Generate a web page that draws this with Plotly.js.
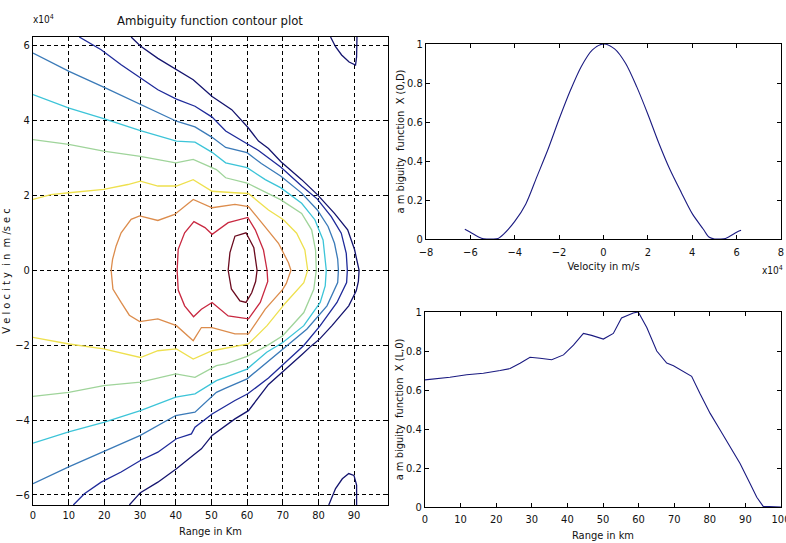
<!DOCTYPE html>
<html><head><meta charset="utf-8">
<script src="https://cdn.plot.ly/plotly-3.0.1.min.js"></script>
<style>html,body{margin:0;padding:0;background:#fff}#chart{width:786px;height:543px}</style>
</head><body><div id="chart"></div><script>
// ---- Contour lines (range km, velocity x10^4 m/s) ----
var l1x = [27.5,30.1,35,40.2,44.9,50.2,55.7,60.2,63.2,66,69.5,75.3,79.7,84.5,88.2,90.1,91,91.4,91.2,90.6,88.5,83.8,80.3,78,75.4,70,66,60.4,56.6,50.2,47.2,44.9,40.2,35,30.1,27,
           null,83.4,84.8,86.5,88.6,90.4,90.7,90.8,
           null,82.9,84.8,86.7,88.5,89.96,90.7,90.7];
var l1y = [6.23,5.99,5.66,5.35,5.09,4.64,4.29,3.82,3.45,3.25,2.9,2.42,2.02,1.52,1.08,0.56,0.2,0,-0.3,-0.55,-0.95,-1.48,-1.84,-2.02,-2.25,-2.7,-3.05,-3.75,-3.97,-4.41,-4.77,-4.94,-5.3,-5.66,-5.94,-6.27,
           null,6.23,5.97,5.75,5.56,5.48,5.7,6.23,
           null,-6.27,-5.83,-5.57,-5.43,-5.48,-5.74,-6.27];
var l2x = [12.96,19.1,24.7,30.1,35,40.2,45.4,50.2,54,60,63.2,69.5,75.3,79.7,83.6,86.4,87.8,88.1,87.9,85.2,80.5,75.9,70,66,60.2,56.6,50.2,45.4,44.4,40.2,35,30.1,24.7,19.1,14.4,11.3];
var l2y = [6.23,5.89,5.49,5.13,4.82,4.57,4.38,4.09,3.72,3.38,3.2,2.75,2.25,1.9,1.43,0.99,0.45,0,-0.33,-0.86,-1.48,-2.01,-2.52,-2.88,-3.3,-3.48,-3.84,-4.19,-4.37,-4.5,-4.86,-5.08,-5.39,-5.66,-5.97,-6.27];
var l3x = [0,10.1,19.8,30.1,40.2,45.4,50.2,54,60,64,69.5,75.3,79.7,82.7,84.5,85.4,85.6,85.4,82.4,76.8,70,65,60,54,51.4,45.4,40,30.1,19.8,10,0];
var l3y = [5.8,5.31,4.89,4.42,3.98,3.83,3.55,3.28,3.14,2.85,2.51,2.06,1.61,1.17,0.72,0.3,0,-0.33,-0.95,-1.57,-2.1,-2.5,-2.9,-3.15,-3.26,-3.79,-3.88,-4.41,-4.85,-5.25,-5.7];
var l4x = [0,10.1,19.8,30.1,40.2,45.4,50.2,54,60,65.1,69.5,75.3,79,81.3,82.2,81.9,80.5,75.9,70,65.5,60,54,51.4,45.4,40,30.1,19.8,10,0];
var l4y = [4.69,4.33,4.05,3.73,3.45,3.42,3.15,2.87,2.74,2.42,2.2,1.79,1.35,0.81,0,-0.42,-0.86,-1.48,-1.93,-2.19,-2.64,-2.85,-2.95,-3.3,-3.39,-3.75,-4.06,-4.32,-4.62];
var l5x = [0,10,19.8,30.1,40,44.9,51.4,54,60,69.5,75.3,78.1,79.2,79.4,78.7,75.9,70,65.5,60,54,51.4,45.4,40,30.1,19.8,10,0];
var l5y = [3.49,3.36,3.18,3.04,2.87,2.96,2.69,2.47,2.33,1.88,1.52,1.08,0.54,0,-0.51,-1.13,-1.75,-2.02,-2.3,-2.5,-2.55,-2.86,-2.77,-2.99,-3.08,-3.26,-3.37];
var l6x = [0,5,10.1,19.8,26.6,30.1,35,40.2,44.9,50.2,56.6,60.4,66,70.2,73.9,76.2,77,75.9,70.7,65.6,60.4,50.2,44.9,40.2,35,30.1,19.8,10.1,0];
var l6y = [1.89,2.02,2.07,2.16,2.29,2.38,2.25,2.25,2.42,2.11,2.07,2.05,1.61,1.35,0.99,0.54,0,-0.33,-0.88,-1.48,-1.97,-2.15,-2.37,-2.1,-2.15,-2.33,-2.1,-1.97,-1.79];
var l7x = [21.9,22.3,23.3,24.7,27.5,29.9,35,39.7,44.9,50.2,56.6,60.4,64.2,68.8,71.6,72.3,71,70,65.1,60.4,56.6,50.2,47.2,44.9,40.2,35,29.9,27,24.7,22.4,21.9];
var l7y = [0,0.29,0.65,1,1.36,1.45,1.33,1.49,1.89,1.67,1.76,1.7,1.26,0.72,0.2,0,-0.35,-0.51,-1.04,-1.7,-1.7,-1.53,-1.53,-1.88,-1.48,-1.3,-1.37,-1.2,-0.86,-0.5,0];
var l8x = [40.4,40.7,42.5,45.1,48.2,50.2,54.7,60.2,62.3,64.6,65.6,65.8,63.7,60.4,54.7,50.2,47.2,45,42.5,40.7,40.4];
var l8y = [0,0.56,1,1.3,1.14,0.96,1.27,1.41,1.08,0.54,0,-0.3,-0.86,-1.3,-1.22,-0.86,-1.04,-1.24,-0.95,-0.53,0];
var l9x = [54.7,55.2,56.6,59.7,61.9,62.8,62.4,61.3,59.7,58,55.6,54.7];
var l9y = [0,0.47,0.91,1,0.6,0,-0.3,-0.6,-0.86,-0.82,-0.5,0];

// ---- Velocity cut (x10^4 m/s) ----
var velX = [-6.25,-6,-5.5,-5.25,-5,-4.75,-4.5,-4,-3.5,-3,-2.5,-2,-1.5,-1,-0.5,0,0.5,1,1.5,2,2.5,3,3.5,4,4.5,4.75,5,5.25,5.5,6,6.2];
var velY = [0.05,0.035,0.004,0,0,0.003,0.025,0.09,0.18,0.32,0.46,0.615,0.76,0.885,0.97,1.0,0.975,0.9,0.78,0.64,0.49,0.355,0.24,0.13,0.05,0.01,0,0,0.003,0.035,0.045];

// ---- Range cut (km) ----
var rngX = [0,7,11.7,16.4,21.1,23.9,26.7,29.5,32.3,35.6,38.9,41.7,44.5,46.8,50.1,52.9,55.2,58.5,59.9,62.3,65.1,67.9,69.8,72.6,74.9,77.2,80.1,82.9,85.7,88.5,91.3,93.2,95,100];
var rngY = [0.652,0.665,0.678,0.686,0.7,0.71,0.737,0.768,0.763,0.755,0.78,0.83,0.89,0.88,0.861,0.89,0.969,0.995,1.0,0.92,0.8,0.738,0.724,0.695,0.67,0.583,0.48,0.395,0.31,0.223,0.12,0.05,0.003,0];

var levelColors = ['#14146e','#1e2a9a','#3a7ab8','#3cc4d8','#9fd49a','#eee04e','#dc8c4c','#c82840','#6a0a1e'];
var levels = [[l1x,l1y],[l2x,l2y],[l3x,l3y],[l4x,l4y],[l5x,l5y],[l6x,l6y],[l7x,l7y],[l8x,l8y],[l9x,l9y]];

var traces = levels.map(function(p,i){
  return {x:p[0], y:p[1], type:'scatter', mode:'lines', xaxis:'x', yaxis:'y',
          line:{color:levelColors[i], width:1.3}, connectgaps:false, hoverinfo:'skip'};
});
traces.push({x:velX, y:velY, type:'scatter', mode:'lines', xaxis:'x2', yaxis:'y2',
             line:{color:'#1a1a80', width:1.1, shape:'spline', smoothing:0.8}});
traces.push({x:rngX, y:rngY, type:'scatter', mode:'lines', xaxis:'x3', yaxis:'y3', line:{color:'#1a1a80', width:1.1}});

var FONT = 'Liberation Sans Narrow, DejaVu Sans Condensed, Arial Narrow, sans-serif';
function ax(extra){
  var base = {showline:true, linecolor:'#000', linewidth:1, mirror:'allticks', ticks:'inside', ticklen:4,
              tickcolor:'#000', zeroline:false, showgrid:false, tickfont:{family:FONT, size:11, color:'#111'},
              fixedrange:true, ticklabeloverflow:'allow'};
  for (var k in extra) base[k] = extra[k];
  return base;
}
var gridOpt = {showgrid:true, gridcolor:'#000', gridwidth:1, griddash:'4px,3px'};

var layout = {
  width:786, height:543, margin:{l:0,r:0,t:0,b:0}, showlegend:false,
  paper_bgcolor:'#fff', plot_bgcolor:'#fff',
  font:{family:FONT, color:'#111', size:11},
  title:{text:'Ambiguity function contour plot', x:210/786, xanchor:'center', y:1-20/543, yanchor:'middle',
         font:{family:FONT, size:13, color:'#111'}},
  xaxis: Object.assign(ax({domain:[33/786, 388/786], range:[0,99.5], tick0:0, dtick:10, anchor:'y',
          title:{text:'Range in Km', standoff:6, font:{family:FONT, size:11}}}), gridOpt),
  yaxis: Object.assign(ax({domain:[1-505/543, 1-37/543], range:[-6.27,6.23], tick0:0, dtick:2, anchor:'x',
          title:{text:'V e l o c i t y  i n  m /s e c', standoff:2, font:{family:FONT, size:11}}}), gridOpt),
  xaxis2: ax({domain:[426/786, 781/786], range:[-8,8], tick0:0, dtick:2, anchor:'y2', ticklabelstandoff:3,
          title:{text:'Velocity in m/s', standoff:4, font:{family:FONT, size:11}}}),
  yaxis2: ax({domain:[1-239/543, 1-44/543], range:[0,1], tick0:0, dtick:0.2, anchor:'x2',
          title:{text:'a m biguity  function  X (0,D)', standoff:0, font:{family:FONT, size:11}}}),
  xaxis3: ax({domain:[425/786, 781/786], range:[0,100], tick0:0, dtick:10, anchor:'y3', ticklabelstandoff:2,
          title:{text:'Range in km', standoff:6, font:{family:FONT, size:11}}}),
  yaxis3: ax({domain:[1-507/543, 1-312/543], range:[0,1], tick0:0, dtick:0.2, anchor:'x3',
          title:{text:'a m biguity  function  X (L,0)', standoff:0, font:{family:FONT, size:11}}}),
  annotations:[
    {text:'x10<sup>4</sup>', xref:'paper', yref:'paper', x:31/786, y:1-19/543, xanchor:'left', yanchor:'middle',
     showarrow:false, font:{family:FONT, size:10, color:'#111'}},
    {text:'x10<sup>4</sup>', xref:'paper', yref:'paper', x:760/786, y:1-270/543, xanchor:'left', yanchor:'middle',
     showarrow:false, font:{family:FONT, size:10, color:'#111'}}
  ]
};
Plotly.newPlot('chart', traces, layout, {staticPlot:true, displayModeBar:false});
</script></body></html>
